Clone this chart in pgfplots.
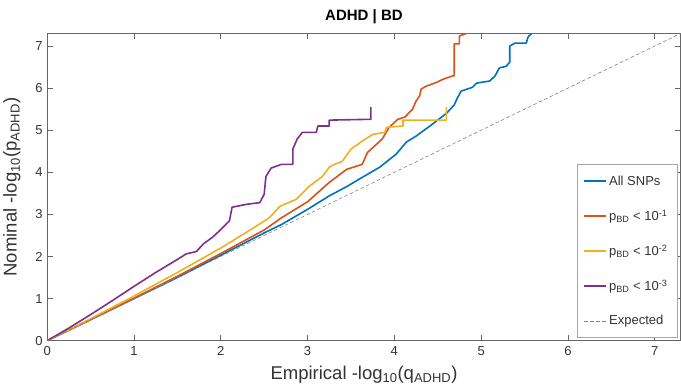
\documentclass[border=0pt]{standalone}
\usepackage{fontspec}
\setmainfont{Liberation Sans}
\usepackage{pgfplots}
\pgfplotsset{compat=1.18}
\definecolor{mblue}{rgb}{0,0.447,0.741}
\definecolor{morange}{rgb}{0.85,0.325,0.098}
\definecolor{myellow}{rgb}{0.929,0.694,0.125}
\definecolor{mpurple}{rgb}{0.494,0.184,0.556}
\begin{document}
\begin{tikzpicture}
\begin{axis}[
  scale only axis,
  width=633pt, height=307pt,
  xmin=0, xmax=7.3, ymin=0, ymax=7.3,
  xtick={0,1,...,7}, ytick={0,1,...,7},
  tick align=inside,
  major tick length=6pt,
  axis line style={gray!80!black, line width=0.6pt},
  tick style={gray!80!black, line width=0.6pt},
  /pgf/number format/assume math mode=true,
  tick label style={font=\fontsize{13}{15}\selectfont, text=black!80},
  xticklabel style={yshift=-2pt},
  yticklabel style={xshift=-1pt},
  title={\fontsize{15}{17}\selectfont\bfseries ADHD | BD},
  title style={inner ysep=10pt, yshift=-7pt},
  xlabel={\fontsize{18.5}{20}\selectfont Empirical -log\textsubscript{10}(q\textsubscript{ADHD})},
  ylabel={\fontsize{18.5}{20}\selectfont Nominal -log\textsubscript{10}(p\textsubscript{ADHD})},
  xlabel style={yshift=-4pt, text=black!80},
  ylabel style={yshift=8pt, text=black!80},
  legend cell align=left,
  legend style={at={(0.995,0.01)}, anchor=south east, draw=gray!70, line width=0.6pt,
    font=\fontsize{13}{15}\selectfont, row sep=19pt, inner xsep=6pt, inner ysep=9pt, text=black!80},
  legend image code/.code={\draw[#1] (0pt,0pt) -- (22pt,0pt);},
  every axis plot/.append style={line width=1.6pt, line join=round},
]
\addplot[mblue] coordinates {
(0,0)(0.5,0.5)(1,1.0)(1.5,1.5)(2,2.03)(2.5,2.56)(2.7,2.76)(3,3.12)(3.25,3.44)(3.45,3.66)(3.63,3.88)(3.83,4.12)(4.02,4.43)(4.14,4.72)(4.25,4.86)(4.41,5.1)(4.6,5.4)(4.69,5.6)(4.72,5.74)(4.77,5.93)(4.9,6.02)(4.95,6.12)(5.1,6.17)(5.16,6.29)(5.21,6.48)(5.29,6.52)(5.33,6.62)(5.33,7.0)(5.39,7.07)(5.52,7.07)(5.54,7.21)(5.58,7.3)
};
\addlegendentry{\makebox[60pt][l]{All SNPs}}
\addplot[morange] coordinates {
(0,0)(0.5,0.5)(1,1.01)(1.5,1.53)(2,2.07)(2.5,2.63)(2.7,2.92)(3,3.3)(3.25,3.76)(3.45,4.07)(3.63,4.19)(3.69,4.47)(3.86,4.79)(3.94,5.07)(4.04,5.26)(4.12,5.31)(4.21,5.5)(4.25,5.69)(4.29,5.81)(4.31,5.98)(4.37,6.05)(4.49,6.14)(4.56,6.21)(4.67,6.29)(4.69,6.29)(4.69,7.05)(4.75,7.05)(4.75,7.24)(4.83,7.3)
};
\addlegendentry{p\textsubscript{BD} < 10\textsuperscript{-1}}
\addplot[myellow] coordinates {
(0,0)(0.5,0.52)(1,1.06)(1.5,1.62)(2,2.2)(2.33,2.62)(2.56,2.92)(2.68,3.19)(2.87,3.36)(3.02,3.67)(3.17,3.9)(3.25,4.12)(3.31,4.19)(3.4,4.26)(3.5,4.55)(3.63,4.74)(3.75,4.9)(3.89,4.95)(3.91,5.07)(4.1,5.1)(4.1,5.24)(4.6,5.24)(4.6,5.55)
};
\addlegendentry{p\textsubscript{BD} < 10\textsuperscript{-2}}
\addplot[mpurple] coordinates {
(0,0)(0.25,0.3)(0.5,0.62)(0.75,0.95)(1,1.29)(1.25,1.62)(1.5,1.93)(1.6,2.06)(1.72,2.12)(1.8,2.3)(1.9,2.45)(1.98,2.6)(2.1,2.85)(2.13,3.17)(2.3,3.24)(2.45,3.28)(2.5,3.48)(2.52,3.9)(2.58,4.1)(2.7,4.19)(2.83,4.19)(2.83,4.55)(2.88,4.79)(2.94,4.95)(3.1,4.95)(3.12,5.1)(3.25,5.1)(3.25,5.24)(3.73,5.26)(3.73,5.55)
};
\addlegendentry{p\textsubscript{BD} < 10\textsuperscript{-3}}
\addplot[gray, line width=0.6pt, dash pattern=on 3.5pt off 2.5pt] coordinates {(0,0)(7.3,7.3)};
\addlegendentry{Expected}
\end{axis}
\end{tikzpicture}
\end{document}
